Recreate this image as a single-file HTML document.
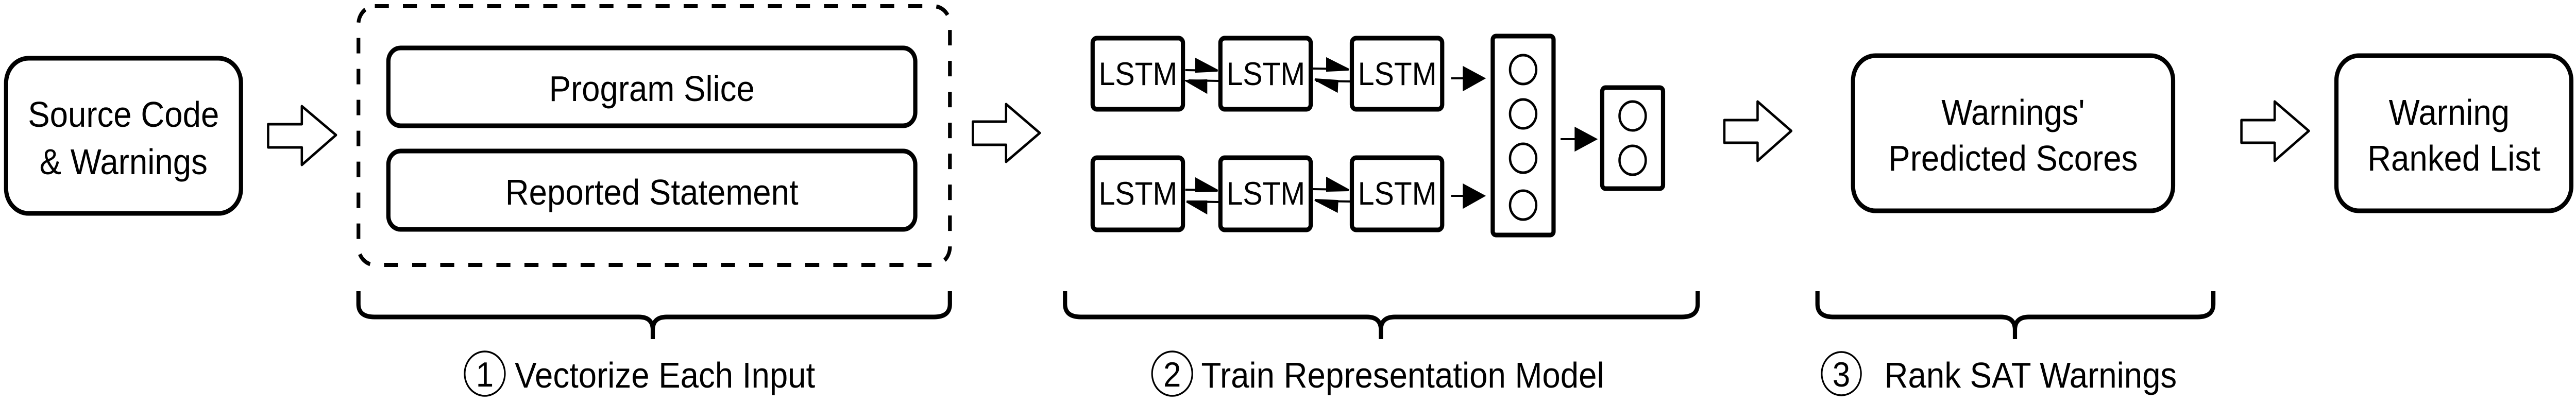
<!DOCTYPE html>
<html><head><meta charset="utf-8"><style>
html,body{margin:0;padding:0;background:#fff;overflow:hidden;width:100%;height:100%;}
svg{display:block;width:100vw;height:100vh;}
text{font-family:"Liberation Sans",Arial,sans-serif;fill:#000;}
</style></head><body>
<svg viewBox="0 0 5505 780" preserveAspectRatio="none" xmlns="http://www.w3.org/2000/svg">
<rect width="5505" height="780" fill="#fff"/>
<g fill="none" stroke="#000" stroke-width="9">
  <rect x="13" y="113" width="502" height="301" rx="48"/>
  <rect x="766" y="12" width="1264" height="502" rx="35" stroke-width="8" stroke-dasharray="30 30"/>
  <rect x="830" y="93" width="1126" height="151" rx="26"/>
  <rect x="830" y="293" width="1126" height="152" rx="26"/>
  <rect x="2335" y="74" width="193" height="138" rx="9"/>
  <rect x="2608" y="74" width="193" height="138" rx="9"/>
  <rect x="2889" y="74" width="193" height="138" rx="9"/>
  <rect x="2335" y="306" width="193" height="140" rx="9"/>
  <rect x="2608" y="306" width="193" height="140" rx="9"/>
  <rect x="2889" y="306" width="193" height="140" rx="9"/>
  <rect x="3190" y="70" width="130" height="386" rx="7"/>
  <rect x="3424" y="170" width="130" height="196" rx="7"/>
  <rect x="3960" y="108" width="684" height="301" rx="48"/>
  <rect x="4993" y="108" width="502" height="301" rx="48"/>
  <path d="M766 565 V590 Q766 615 800 615 H1365 Q1395 615 1395 640 V658 M1395 640 Q1395 615 1425 615 H1996 Q2030 615 2030 590 V565"/>
  <path d="M2276 565 V590 Q2276 615 2310 615 H2921 Q2951 615 2951 640 V658 M2951 640 Q2951 615 2981 615 H3594 Q3628 615 3628 590 V565"/>
  <path d="M3884 565 V590 Q3884 615 3918 615 H4276 Q4306 615 4306 640 V658 M4306 640 Q4306 615 4336 615 H4696 Q4730 615 4730 590 V565"/>
</g>
<g fill="#fff" stroke="#000" stroke-width="5" stroke-linejoin="round">
  <polygon points="573,241 645,241 645,206 718,262 645,320 645,286 573,286"/>
  <polygon points="2079,236 2150,236 2150,202 2222,258 2150,314 2150,281 2079,281"/>
  <polygon points="3685,233 3756,233 3756,197 3828,254 3756,312 3756,277 3685,277"/>
  <polygon points="4790,233 4861,233 4861,197 4934,254 4861,312 4861,277 4790,277"/>
</g>
<g stroke="#000" stroke-width="4" fill="#000">
  <line x1="2533" y1="136" x2="2598" y2="137"/><polygon points="2556,115 2602,137 2556,139"/>
  <line x1="2604" y1="157" x2="2540" y2="156"/><polygon points="2578,156 2536,157 2578,179"/>
  <line x1="2806" y1="133" x2="2880" y2="134"/><polygon points="2836,114 2882,135 2836,137"/>
  <line x1="2885" y1="158" x2="2812" y2="157"/><polygon points="2858,157 2810,154 2857,177"/>
  <line x1="2533" y1="368" x2="2598" y2="369"/><polygon points="2556,347 2602,370 2556,371"/>
  <line x1="2604" y1="392" x2="2540" y2="391"/><polygon points="2578,391 2536,391 2578,413"/>
  <line x1="2806" y1="367" x2="2880" y2="368"/><polygon points="2836,346 2882,369 2836,370"/>
  <line x1="2885" y1="391" x2="2812" y2="390"/><polygon points="2858,390 2810,388 2857,410"/>
  <line x1="3101" y1="152" x2="3130" y2="152"/><polygon points="3128,131 3171,152 3128,174"/>
  <line x1="3101" y1="380" x2="3130" y2="380"/><polygon points="3128,359 3171,380 3128,402"/>
  <line x1="3335" y1="270" x2="3370" y2="270"/><polygon points="3367,249 3410,270 3367,291"/>
</g>
<g fill="none" stroke="#000" stroke-width="5">
  <circle cx="3255" cy="135" r="28"/>
  <circle cx="3255" cy="221" r="28"/>
  <circle cx="3255" cy="307" r="28"/>
  <circle cx="3255" cy="398" r="28"/>
  <circle cx="3489" cy="225" r="28"/>
  <circle cx="3489" cy="311" r="28"/>
  <circle cx="1036" cy="725" r="43" stroke-width="3.5"/>
  <circle cx="2505" cy="725" r="43" stroke-width="3.5"/>
  <circle cx="3935" cy="725" r="42" stroke-width="3.5"/>
</g>
<g font-size="70" text-anchor="middle">
  <text x="264" y="246">Source Code</text>
  <text x="264" y="338">&amp; Warnings</text>
  <text x="1393" y="196">Program Slice</text>
  <text x="1393" y="397">Reported Statement</text>
  <text x="4302" y="242">Warnings'</text>
  <text x="4302" y="331">Predicted Scores</text>
  <text x="5234" y="242">Warning</text>
  <text x="5244" y="331">Ranked List</text>
</g>
<g font-size="63" text-anchor="middle">
  <text x="2432" y="165">LSTM</text>
  <text x="2705" y="165">LSTM</text>
  <text x="2986" y="165">LSTM</text>
  <text x="2432" y="397">LSTM</text>
  <text x="2705" y="397">LSTM</text>
  <text x="2986" y="397">LSTM</text>
</g>
<g font-size="68" text-anchor="middle">
  <text x="1036" y="750">1</text>
  <text x="2505" y="750">2</text>
  <text x="3935" y="750">3</text>
</g>
<g font-size="70">
  <text x="1100" y="752">Vectorize Each Input</text>
  <text x="2567" y="752">Train Representation Model</text>
  <text x="4027" y="752">Rank SAT Warnings</text>
</g>
</svg>
</body></html>
